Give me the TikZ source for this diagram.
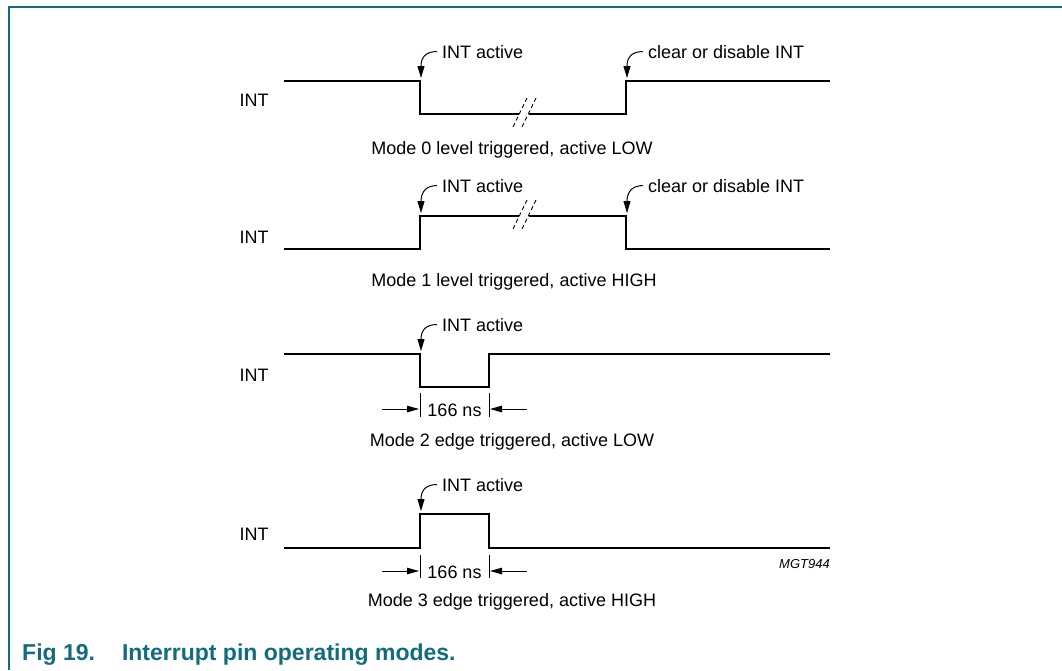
\documentclass[tikz,border=0pt]{standalone}
\usepackage{fontspec}
\setmainfont{Liberation Sans}
\usetikzlibrary{arrows.meta}
\definecolor{nxpteal}{RGB}{18,108,128}
\begin{document}
\begin{tikzpicture}[x=1pt,y=-1pt,
  sig/.style={line width=2.8pt, line join=miter, line cap=butt},
  lbl/.style={inner sep=0pt, font=\fontsize{18}{20}\selectfont},
  callout/.style={line width=1pt, -{Triangle[length=12pt,width=7pt]}},
  dim/.style={line width=1pt, -{Triangle[length=12pt,width=6.5pt]}},
  tickline/.style={line width=0.9pt},
  brk/.style={line width=0.9pt, dash pattern=on 4pt off 3pt}]
\useasboundingbox (0,0) rectangle (1062,670);
\draw[nxpteal, line width=2pt] (9,670) -- (9,7) -- (1062,7);

% ---------- Mode 0 ----------
\node[lbl, anchor=base] (int0) at (254,106) {INT};
\draw[sig] (284,81) -- (420,81) -- (420,114) -- (519,114);
\draw[sig] (529,114) -- (626,114) -- (626,81) -- (830,81);
\draw[brk] (527,98) -- (512,129);
\draw[brk] (536,98) -- (521,129);
\node[lbl, anchor=base west] (a0) at (442,58) {INT active};
\node[lbl, anchor=base west] (c0) at (648,58) {clear or disable INT};
\coordinate (ta0) at (421,78);
\coordinate (tc0) at (627,78);
\draw[callout] ([xshift=-5pt]a0.west) .. controls +(-10,0) and +(0,-22) .. (ta0);
\draw[callout] ([xshift=-5pt]c0.west) .. controls +(-10,0) and +(0,-22) .. (tc0);
\node[lbl, anchor=base] (m0) at (512,154) {Mode 0 level triggered, active LOW};

% ---------- Mode 1 ----------
\node[lbl, anchor=base] (int1) at (254,243) {INT};
\draw[sig] (284,249) -- (420,249) -- (420,216) -- (519,216);
\draw[sig] (529,216) -- (626,216) -- (626,249) -- (830,249);
\draw[brk] (527,200) -- (512,231);
\draw[brk] (536,200) -- (521,231);
\node[lbl, anchor=base west] (a1) at (442,192) {INT active};
\node[lbl, anchor=base west] (c1) at (648,192) {clear or disable INT};
\coordinate (ta1) at (421,213);
\coordinate (tc1) at (627,213);
\draw[callout] ([xshift=-5pt]a1.west) .. controls +(-10,0) and +(0,-22) .. (ta1);
\draw[callout] ([xshift=-5pt]c1.west) .. controls +(-10,0) and +(0,-22) .. (tc1);
\node[lbl, anchor=base] (m1) at (514,286) {Mode 1 level triggered, active HIGH};

% ---------- Mode 2 ----------
\node[lbl, anchor=base] (int2) at (254,381) {INT};
\draw[sig] (284,354) -- (420,354) -- (420,387) -- (489,387) -- (489,354) -- (830,354);
\node[lbl, anchor=base west] (a2) at (442,331) {INT active};
\coordinate (ta2) at (421,351);
\draw[callout] ([xshift=-5pt]a2.west) .. controls +(-10,0) and +(0,-22) .. (ta2);
\coordinate (t2a) at (420,393); \coordinate (t2b) at (420,417);
\coordinate (t2c) at (489,393); \coordinate (t2d) at (489,417);
\draw[tickline] (t2a) -- (t2b);
\draw[tickline] (t2c) -- (t2d);
\coordinate (d2l) at (382,409); \coordinate (d2r) at (527,409);
\draw[dim] (d2l) -- (419,409);
\draw[dim] (d2r) -- (490,409);
\node[lbl, anchor=base] (n2) at (454.5,416) {166 ns};
\node[lbl, anchor=base] (m2) at (512,446) {Mode 2 edge triggered, active LOW};

% ---------- Mode 3 ----------
\node[lbl, anchor=base] (int3) at (254,540) {INT};
\draw[sig] (284,548) -- (420,548) -- (420,514) -- (489,514) -- (489,548) -- (830,548);
\node[lbl, anchor=base west] (a3) at (442,491) {INT active};
\coordinate (ta3) at (421,511);
\draw[callout] ([xshift=-5pt]a3.west) .. controls +(-10,0) and +(0,-22) .. (ta3);
\coordinate (t3a) at (420,555); \coordinate (t3b) at (420,578);
\coordinate (t3c) at (489,555); \coordinate (t3d) at (489,578);
\draw[tickline] (t3a) -- (t3b);
\draw[tickline] (t3c) -- (t3d);
\coordinate (d3l) at (382,571); \coordinate (d3r) at (527,571);
\draw[dim] (d3l) -- (419,571);
\draw[dim] (d3r) -- (490,571);
\node[lbl, anchor=base] (n3) at (454.5,578) {166 ns};
\node[inner sep=0pt, anchor=base east, font=\fontsize{13}{14}\selectfont\itshape] (mgt) at (830,568) {MGT944};
\node[lbl, anchor=base] (m3) at (512,606) {Mode 3 edge triggered, active HIGH};

% ---------- Title ----------
\node[inner sep=0pt, anchor=base west, font=\fontsize{23}{26}\selectfont\bfseries, text=nxpteal] (title) at (22,660) {Fig 19.\hspace{27pt}Interrupt pin operating modes.};
\end{tikzpicture}
\end{document}
